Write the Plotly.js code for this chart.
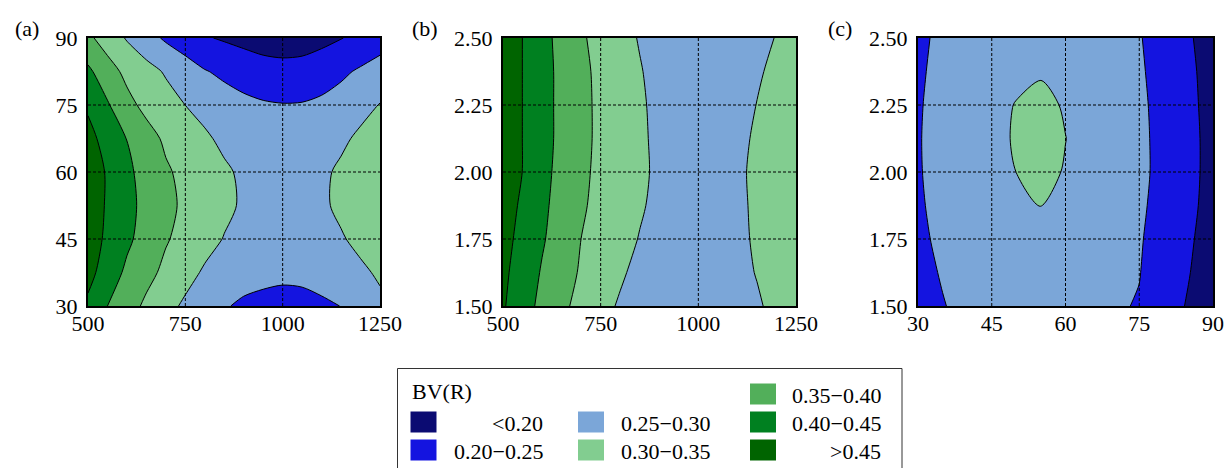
<!DOCTYPE html>
<html><head><meta charset="utf-8">
<script src="https://cdn.plot.ly/plotly-3.0.1.min.js"></script>
<style>html,body{margin:0;padding:0;background:#fff;} #chart{width:1226px;height:468px;}</style>
</head><body><div id="chart"></div>
<script>
// ---- contour levels, band colours and legend labels ----
const levels = [0.20, 0.25, 0.30, 0.35, 0.40, 0.45];
const bandColors = ['#0b0b72', '#1414e0', '#7ba6d8', '#82cd90', '#52af5a', '#008020', '#006400'];
const bandLabels = ['&lt;0.20', '0.20−0.25', '0.25−0.30', '0.30−0.35', '0.35−0.40', '0.40−0.45', '&gt;0.45'];
const legendTitle = 'BV(R)';
const panelLabels = ['(a)', '(b)', '(c)'];

// ---- panel (a) ----
const aX = [500, 550, 600, 650, 700, 750, 800, 850, 900, 950, 1000, 1050, 1100, 1150, 1200, 1250];
const aY = [30, 37.5, 45, 52.5, 60, 67.5, 75, 82.5, 90];
const aZ = [
  [0.440,0.400,0.370,0.341,0.315,0.292,0.274,0.2535,0.243,0.241,0.240,0.241,0.244,0.2505,0.268,0.288],
  [0.466,0.426,0.391,0.364,0.339,0.316,0.294,0.279,0.267,0.259,0.256,0.257,0.264,0.276,0.290,0.308],
  [0.474,0.441,0.409,0.381,0.354,0.335,0.316,0.298,0.285,0.276,0.272,0.273,0.281,0.295,0.314,0.326],
  [0.476,0.445,0.414,0.386,0.361,0.342,0.326,0.310,0.294,0.285,0.281,0.282,0.291,0.311,0.324,0.334],
  [0.479,0.445,0.410,0.382,0.356,0.338,0.323,0.307,0.292,0.284,0.279,0.280,0.290,0.309,0.322,0.332],
  [0.465,0.432,0.399,0.368,0.342,0.325,0.307,0.290,0.277,0.267,0.263,0.265,0.274,0.290,0.310,0.325],
  [0.443,0.405,0.364,0.337,0.319,0.2998,0.285,0.272,0.262,0.255,0.252,0.253,0.259,0.268,0.283,0.302],
  [0.410,0.370,0.338,0.317,0.295,0.274,0.253,0.240,0.228,0.219,0.215,0.217,0.228,0.242,0.256,0.267],
  [0.360,0.328,0.296,0.268,0.243,0.223,0.204,0.195,0.187,0.180,0.178,0.180,0.187,0.198,0.215,0.232]
];
const aXTicks = [500, 750, 1000, 1250];
const aYTicks = [30, 45, 60, 75, 90];

// ---- panel (b) ----
const bX = [500, 550, 600, 650, 700, 750, 800, 850, 900, 950, 1000, 1050, 1100, 1150, 1200, 1250];
const bY = [1.5, 1.625, 1.75, 1.875, 2.0, 2.125, 2.25, 2.375, 2.5];
const bZ = [
  [0.455,0.420,0.388,0.360,0.336,0.315,0.2946,0.282,0.274,0.270,0.268,0.270,0.278,0.293,0.315,0.324],
  [0.460,0.428,0.396,0.370,0.345,0.326,0.3065,0.287,0.280,0.276,0.274,0.276,0.284,0.3026,0.316,0.326],
  [0.466,0.4355,0.405,0.377,0.3499,0.333,0.3155,0.298,0.288,0.281,0.278,0.280,0.288,0.307,0.319,0.329],
  [0.473,0.442,0.410,0.382,0.356,0.337,0.321,0.305,0.289,0.282,0.279,0.281,0.290,0.3085,0.321,0.331],
  [0.479,0.4495,0.415,0.385,0.359,0.340,0.324,0.308,0.292,0.284,0.281,0.283,0.292,0.309,0.321,0.331],
  [0.480,0.4497,0.4175,0.388,0.3616,0.341,0.324,0.307,0.291,0.283,0.280,0.282,0.290,0.3056,0.319,0.329],
  [0.481,0.4497,0.4175,0.388,0.362,0.3405,0.323,0.306,0.289,0.281,0.277,0.279,0.287,0.3008,0.315,0.326],
  [0.482,0.4497,0.4175,0.388,0.361,0.339,0.321,0.303,0.285,0.278,0.274,0.275,0.281,0.294,0.311,0.322],
  [0.484,0.4497,0.416,0.385,0.356,0.335,0.316,0.297,0.287,0.280,0.276,0.276,0.281,0.290,0.3014,0.312]
];
const bXTicks = [500, 750, 1000, 1250];
const bYTicks = [1.5, 1.75, 2.0, 2.25, 2.5];

// ---- panel (c) ----
const cX = [30, 35, 40, 45, 50, 55, 60, 65, 70, 75, 80, 85, 90];
const cY = [1.5, 1.625, 1.75, 1.875, 2.0, 2.125, 2.25, 2.375, 2.5];
const cZ = [
  [0.2426,0.2490,0.2554,0.2618,0.2682,0.2738,0.2671,0.2607,0.2544,0.2475,0.2196,0.1963,0.1729],
  [0.2440,0.2515,0.2591,0.2666,0.2742,0.2808,0.2730,0.2658,0.2585,0.2513,0.2284,0.2021,0.1758],
  [0.2455,0.2545,0.2636,0.2727,0.2818,0.2899,0.2802,0.2712,0.2623,0.2534,0.2333,0.2065,0.1796],
  [0.2467,0.2577,0.2687,0.2797,0.2907,0.3005,0.2886,0.2777,0.2668,0.2559,0.2376,0.2108,0.1839],
  [0.2476,0.2608,0.2739,0.2870,0.3002,0.3107,0.2975,0.2844,0.2712,0.2581,0.2396,0.2127,0.1858],
  [0.2479,0.2618,0.2757,0.2896,0.3035,0.3146,0.3005,0.2864,0.2723,0.2582,0.2389,0.2125,0.1860],
  [0.2473,0.2603,0.2733,0.2863,0.3020,0.3097,0.2965,0.2834,0.2703,0.2571,0.2377,0.2110,0.1842],
  [0.2465,0.2569,0.2673,0.2777,0.2881,0.2965,0.2860,0.2756,0.2652,0.2548,0.2356,0.2090,0.1824],
  [0.2458,0.2544,0.2630,0.2716,0.2803,0.2871,0.2785,0.2699,0.2612,0.2526,0.2316,0.2053,0.1789]
];
const cXTicks = [30, 45, 60, 75, 90];
const cYTicks = [1.5, 1.75, 2.0, 2.25, 2.5];

// ---------------- drawing ----------------
const FONT = 'Liberation Serif, DejaVu Serif, serif';
const W = 1226, H = 468;
const px = v => v / W;
const py = v => 1 - v / H;

// stepped colour scale: one flat colour per contour band
const nb = bandColors.length;
const colorscale = [];
bandColors.forEach((c, i) => {
  const lo = i === 0 ? 0 : (2 * i - 1) / (2 * (nb - 1));
  const hi = i === nb - 1 ? 1 : (2 * i + 1) / (2 * (nb - 1));
  colorscale.push([lo, c], [hi, c]);
});
const step = Math.round((levels[1] - levels[0]) * 1000) / 1000;

function contourTrace(x, y, z, xa, ya) {
  return {
    type: 'contour', x: x, y: y, z: z, xaxis: xa, yaxis: ya,
    autocontour: false,
    contours: {start: levels[0], end: levels[levels.length - 1], size: step, coloring: 'fill', showlines: true},
    line: {color: '#000', width: 1, smoothing: 0.8},
    colorscale: colorscale, showscale: false, hoverinfo: 'skip'
  };
}

const data = [
  contourTrace(aX, aY, aZ, 'x', 'y'),
  contourTrace(bX, bY, bZ, 'x2', 'y2'),
  contourTrace(cX, cY, cZ, 'x3', 'y3')
];

const yDom = [py(306), py(38)];
const xDoms = [[px(88), px(380)], [px(503), px(796)], [px(918), px(1213)]];

function axis(dom, ticks, fmt, anchor, standoff) {
  return {
    domain: dom, range: [ticks[0], ticks[ticks.length - 1]], tickvals: ticks, tickformat: fmt,
    anchor: anchor, showgrid: false, zeroline: false, showline: true, mirror: true,
    linecolor: '#000', linewidth: 2, ticks: '', ticklabelstandoff: standoff,
    tickfont: {family: FONT, size: 22, color: '#000'}, fixedrange: true
  };
}

const panels = [
  {xt: aXTicks, yt: aYTicks, yf: 'd', xr: 'x', yr: 'y'},
  {xt: bXTicks, yt: bYTicks, yf: '.2f', xr: 'x2', yr: 'y2'},
  {xt: cXTicks, yt: cYTicks, yf: '.2f', xr: 'x3', yr: 'y3'}
];

const layout = {
  width: W, height: H, margin: {l: 0, r: 0, t: 0, b: 0},
  paper_bgcolor: '#fff', plot_bgcolor: '#fff', showlegend: false,
  font: {family: FONT, size: 22, color: '#000'},
  shapes: [], annotations: []
};

panels.forEach((p, i) => {
  const s = i === 0 ? '' : String(i + 1);
  layout['xaxis' + s] = axis(xDoms[i], p.xt, 'd', 'y' + s, -3);
  layout['yaxis' + s] = axis(yDom, p.yt, p.yf, 'x' + s, 4);
  // dashed grid lines at the interior ticks, drawn over the filled contours
  p.xt.slice(1, -1).forEach(v => layout.shapes.push({
    type: 'line', xref: p.xr, yref: p.yr + ' domain', x0: v, x1: v, y0: 0, y1: 1,
    line: {color: '#000', width: 1, dash: '3px,2px'}, layer: 'above'
  }));
  p.yt.slice(1, -1).forEach(v => layout.shapes.push({
    type: 'line', xref: p.xr + ' domain', yref: p.yr, x0: 0, x1: 1, y0: v, y1: v,
    line: {color: '#000', width: 1, dash: '3px,2px'}, layer: 'above'
  }));
});

// panel letters
const letterX = [27, 425, 840];
panelLabels.forEach((t, i) => layout.annotations.push({
  text: t, xref: 'paper', yref: 'paper', x: px(letterX[i]), y: py(28),
  xanchor: 'center', yanchor: 'middle', showarrow: false,
  font: {family: FONT, size: 22, color: '#000'}
}));

// legend box (3 columns, filled column by column; slot 0 = title, slot 3 empty)
layout.shapes.push({type: 'rect', xref: 'paper', yref: 'paper',
  x0: px(397.5), x1: px(902), y0: py(368.5), y1: py(475),
  line: {color: '#333', width: 1}, fillcolor: 'rgba(0,0,0,0)', layer: 'above'});
const colSwatch = [410.5, 578, 750];
const colTextRight = [545, 712, 883];
const rowMid = [394, 422, 450];
const slots = [1, 2, 4, 5, 6, 7, 8];
layout.annotations.push({
  text: legendTitle, xref: 'paper', yref: 'paper', x: px(410), y: py(391),
  xanchor: 'left', yanchor: 'middle', showarrow: false,
  font: {family: FONT, size: 22, color: '#000'}
});
bandLabels.forEach((lab, k) => {
  const col = Math.floor(slots[k] / 3), row = slots[k] % 3;
  layout.shapes.push({type: 'rect', xref: 'paper', yref: 'paper',
    x0: px(colSwatch[col]), x1: px(colSwatch[col] + 26),
    y0: py(rowMid[row] - 10.5), y1: py(rowMid[row] + 10.5),
    line: {width: 0}, fillcolor: bandColors[k], layer: 'above'});
  layout.annotations.push({
    text: lab, xref: 'paper', yref: 'paper', x: px(colTextRight[col]), y: py(rowMid[row] + 1),
    xanchor: 'right', yanchor: 'middle', showarrow: false,
    font: {family: FONT, size: 22, color: '#000'}
  });
});

Plotly.newPlot('chart', data, layout, {staticPlot: true, displayModeBar: false});
</script>
</body></html>
